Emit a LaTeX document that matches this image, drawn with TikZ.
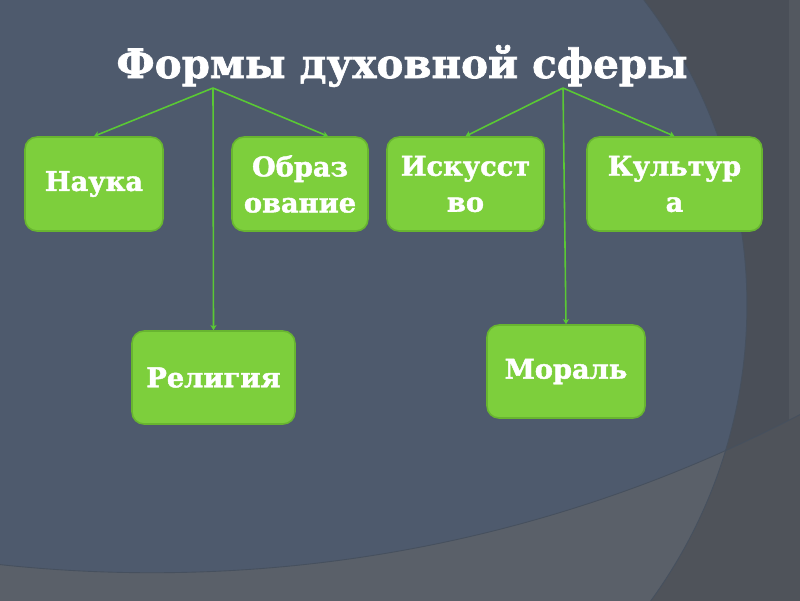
\documentclass[tikz,border=0pt]{standalone}
\usepackage{fontspec}
\setmainfont{DejaVu Serif}[BoldFeatures={FakeBold=1.6}]
\usetikzlibrary{arrows.meta,calc}
\definecolor{bgdark}{HTML}{4A4F58}
\definecolor{bgblue}{HTML}{4E5A6D}
\definecolor{bglow}{HTML}{5A6069}
\definecolor{bglowout}{HTML}{4F535A}
\definecolor{edgeline}{HTML}{46505E}
\definecolor{boxfill}{HTML}{7DCF3C}
\definecolor{boxedge}{HTML}{68B530}
\definecolor{linkgreen}{HTML}{5AC934}
\tikzset{
  formbox/.style={draw=boxedge, line width=0.9pt, fill=boxfill, rounded corners=0.24cm,
    minimum height=1.88cm, inner sep=0pt, align=center, text=white,
    font=\bfseries\fontsize{15.5}{20.5}\selectfont},
  link/.style={draw=linkgreen, line width=0.9pt, -{Stealth[length=3pt,width=3.5pt]}},
  titletext/.style={text=white, font=\bfseries\fontsize{23}{28}\selectfont, inner sep=0pt}
}
\begin{document}
\begin{tikzpicture}[x=0.02cm,y=-0.02cm]
\useasboundingbox (0,0) rectangle (800,600);
% background
\fill[bgdark] (0,0) rectangle (800,600);
\begin{scope}
  \clip (0,0) rectangle (800,600);
  \fill[bgdark!95!white] (789,0) rectangle (800,600);
  \fill[bglowout, even odd rule] (-100,-100) rectangle (900,700) (152,-831) circle (28.08cm);
\end{scope}
\begin{scope}
  \clip (244,305) circle (10.06cm);
  \fill[bgblue] (0,0) rectangle (800,600);
  \fill[bglow, even odd rule] (-100,-100) rectangle (900,700) (152,-831) circle (28.08cm);
\end{scope}
\begin{scope}
  \clip (0,0) rectangle (800,600);
  \draw[edgeline, line width=0.5pt] (244,305) circle (10.06cm);
  \draw[edgeline, line width=0.5pt] (152,-831) circle (28.08cm);
\end{scope}
% title
\node[titletext, anchor=base] (title) at (402,78) {Формы духовной сферы};
\coordinate (L) at (213,88);
\coordinate (R) at (563,88);
% boxes
\node[formbox, minimum width=2.76cm] (nauka) at (94,184) {\raisebox{-2pt}{Наука}};
\node[formbox, minimum width=2.72cm] (obraz) at (300,184) {Образ\\ование};
\node[formbox, minimum width=3.14cm] (isk) at (465.5,184) {Искусст\\во};
\node[formbox, minimum width=3.50cm] (kult) at (674.5,184) {Культур\\а};
\node[formbox, minimum width=3.26cm, minimum height=1.86cm] (relig) at (213.5,377.5) {\raisebox{-2pt}{Религия}};
\node[formbox, minimum width=3.16cm, minimum height=1.86cm] (moral) at (566,371.5) {Мораль};
% connectors
\draw[link] (L) -- (nauka.north);
\draw[link] (L) -- ($(obraz.north)+(28,0)$);
\draw[link] (L) -- (relig.north);
\draw[link] (R) -- (isk.north);
\draw[link] (R) -- (kult.north);
\draw[link] (R) -- (moral.north);
\end{tikzpicture}
\end{document}
